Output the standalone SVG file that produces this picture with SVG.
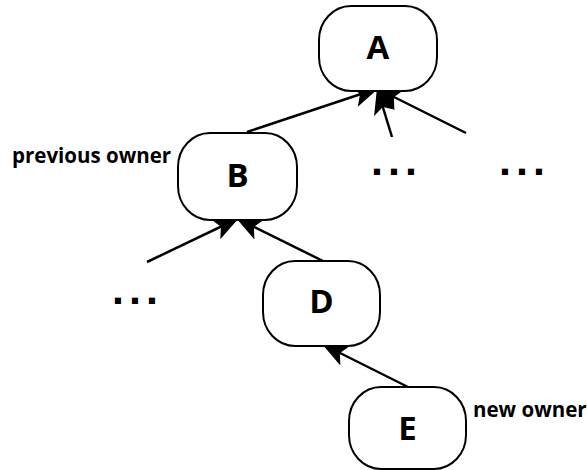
<svg xmlns="http://www.w3.org/2000/svg" width="587" height="470" viewBox="0 0 587 470">
<style>
.node rect{fill:#fff;stroke:#000;stroke-width:2}
.node text{font-family:"Open Sans","DejaVu Sans",sans-serif;font-weight:bold;font-size:33px;text-anchor:middle;fill:#000}
.lbl{font-family:"Open Sans","DejaVu Sans",sans-serif;font-weight:bold;font-size:20.5px;fill:#000}
.dots{font-family:"Liberation Sans",Arial,sans-serif;font-weight:bold;font-size:43px;letter-spacing:5px;fill:#000}
.edges line{stroke:#000;stroke-width:2.5;fill:none;marker-end:url(#ah)}
</style>
<defs>
<marker id="ah" markerUnits="userSpaceOnUse" viewBox="0 -12 28 24" markerWidth="28" markerHeight="24" refX="26" refY="0" orient="auto">
<path d="M0,-11 L26,0 L0,11 L6,0 z" fill="#000"/>
</marker>
</defs>
<g id="edges" class="edges">
<line x1="247" y1="132" x2="379" y2="88"/>
<line x1="392" y1="137" x2="377" y2="88"/>
<line x1="466" y1="133" x2="376" y2="88"/>
<line x1="147" y1="262" x2="239" y2="218"/>
<line x1="325" y1="262" x2="236" y2="218"/>
<line x1="408" y1="387" x2="322" y2="344"/>
</g>
<g id="A" class="node"><rect x="319" y="6" width="118" height="85" rx="32" ry="34"/><text x="378" y="59">A</text></g>
<g id="B" class="node"><rect x="178" y="133" width="119" height="87" rx="32" ry="34"/><text x="237.5" y="187">B</text></g>
<g id="D" class="node"><rect x="263" y="261" width="117" height="85" rx="32" ry="34"/><text x="321.5" y="313">D</text></g>
<g id="E" class="node"><rect x="349" y="387" width="117" height="82" rx="32" ry="34"/><text x="407.5" y="440">E</text></g>
<text class="lbl" x="12" y="163">previous owner</text>
<text class="lbl" x="473" y="417">new owner</text>
<text class="dots" x="371" y="175">...</text>
<text class="dots" x="499" y="175">...</text>
<text class="dots" x="112" y="304">...</text>
</svg>
